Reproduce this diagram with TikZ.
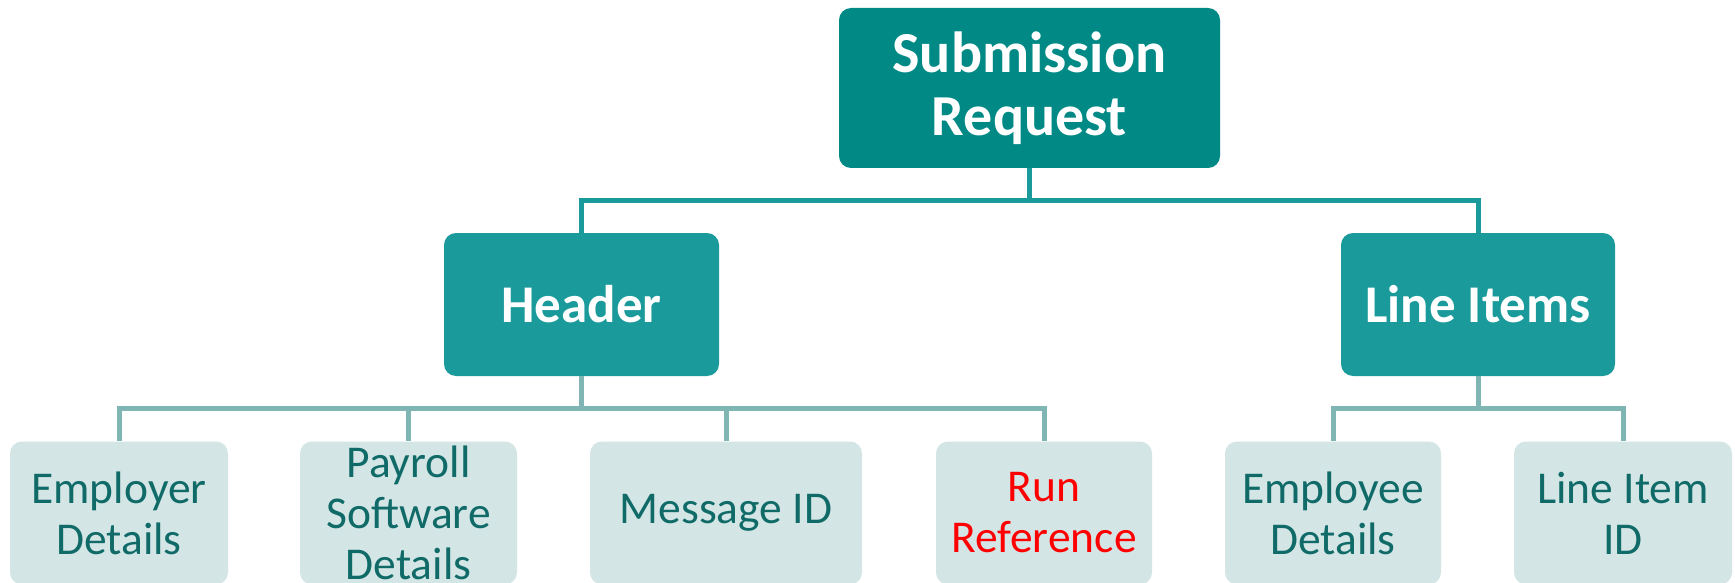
\documentclass[tikz,border=0pt]{standalone}
\usepackage{fontspec}
\setmainfont{Carlito}
\definecolor{topteal}{RGB}{0,137,133}
\definecolor{midteal}{RGB}{26,154,154}
\definecolor{lightbox}{RGB}{211,229,229}
\definecolor{darktext}{RGB}{16,107,104}
\definecolor{lineA}{RGB}{26,154,154}
\definecolor{lineB}{RGB}{127,181,179}
\definecolor{runred}{RGB}{255,0,0}
\begin{document}
\begin{tikzpicture}[x=1pt,y=-1pt,
  topbox/.style={fill=topteal,text=white,rounded corners=12pt,inner sep=0pt,align=center,
    font=\bfseries\fontsize{58}{63}\selectfont},
  midbox/.style={fill=midteal,text=white,rounded corners=12pt,inner sep=0pt,align=center,
    minimum height=143pt,font=\bfseries\fontsize{53}{60}\selectfont},
  leafbox/.style={fill=lightbox,text=darktext,rounded corners=12pt,inner sep=0pt,align=center,
    minimum height=143pt,font=\fontsize{45.5}{51}\selectfont},
  connA/.style={draw=lineA,line width=5pt},
  connB/.style={draw=lineB,line width=5pt}]
\useasboundingbox (0,0) rectangle (1735,583);
\clip (0,0) rectangle (1735,583);
\fill[white] (0,0) rectangle (1735,583);

\node[topbox,minimum width=381pt,minimum height=160pt] (sr) at (1029.5,88) {Submission\\Request};
\node[midbox,minimum width=275pt] (hdr) at (581.5,304.5) {Header};
\node[midbox,minimum width=274pt] (li) at (1478,304.5) {Line Items};

\node[leafbox,minimum width=218pt] (emp) at (119,513) {Employer\\Details};
\node[leafbox,minimum width=217pt] (pay) at (408.5,513) {Payroll\\Software\\Details};
\node[leafbox,minimum width=272pt] (msg) at (726,513) {Message ID};
\node[leafbox,minimum width=216pt,text=runred] (run) at (1044,513) {Run\\Reference};
\node[leafbox,minimum width=216pt] (eme) at (1333,513) {Employee\\Details};
\node[leafbox,minimum width=218pt] (lid) at (1623,513) {Line Item\\ID};

\coordinate (j1) at (1029.5,200);
\coordinate (j2) at (581.5,408.5);
\coordinate (j3) at (1478,408.5);

\draw[connA] (sr.south) -- (j1);
\draw[connA] (j1) -| (hdr.north);
\draw[connA] (j1) -| (li.north);

\draw[connB] (hdr.south) -- (j2);
\draw[connB] (j2) -| (emp.north);
\draw[connB] (j2) -| (pay.north);
\draw[connB] (j2) -| (msg.north);
\draw[connB] (j2) -| (run.north);

\draw[connB] (li.south) -- (j3);
\draw[connB] (j3) -| (eme.north);
\draw[connB] (j3) -| (lid.north);
\end{tikzpicture}
\end{document}
